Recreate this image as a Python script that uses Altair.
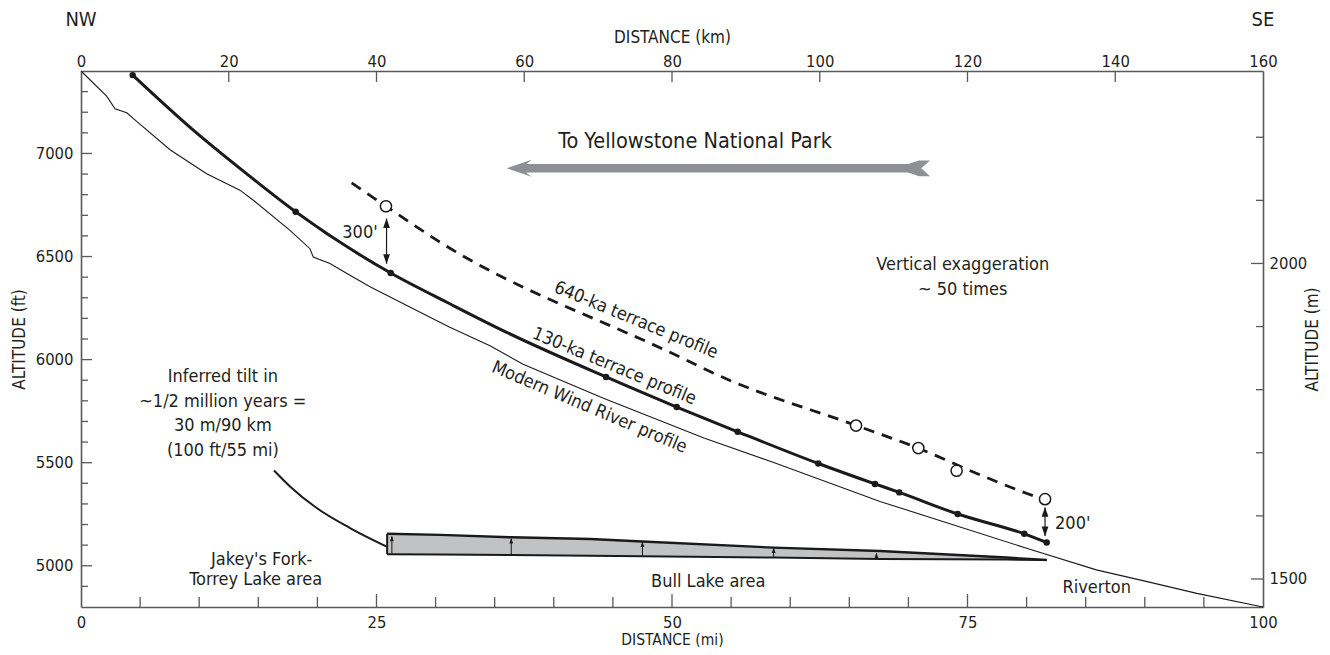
import altair as alt
import pandas as pd

FONT = "DejaVu Sans Condensed, DejaVu Sans, sans-serif"
TXT = "#231f20"
INK = "#1a1a1a"
AXC = "#58595b"
GREY_ARROW = "#8e9094"
W, H = 1182, 536

# ---------------- data ----------------
# Modern Wind River profile
modern_mi = [0, 2.17, 2.88, 3.87, 4.71, 7.53, 10.63, 13.45, 14.58, 17.68, 19.37, 19.65,
             21.06, 22.5, 24.45, 28.4, 31.2, 34.6, 37.4, 44.2, 52.7, 58.6, 67.6, 80.0,
             85.9, 90.2, 94.4, 100]
modern_ft = [7400, 7278, 7217, 7197, 7156, 7018, 6902, 6822, 6773, 6627, 6538, 6498,
             6466, 6418, 6353, 6238, 6157, 6067, 5978, 5813, 5620, 5501, 5312, 5085,
             4980, 4923, 4866, 4800]

# 130-ka terrace profile (line) and its sample points (dots)
t130_mi = [4.37, 9.5, 14.0, 18.16, 26.2, 31.2, 35.7, 44.42, 50.4, 55.56, 62.38, 67.17,
           69.23, 74.17, 79.8, 81.7]
t130_ft = [7380, 7113, 6902, 6717, 6420, 6271, 6141, 5916, 5770, 5650, 5496, 5397,
           5356, 5251, 5155, 5113]
dot130_mi = [4.37, 18.16, 26.2, 44.42, 50.4, 55.56, 62.38, 67.17, 69.23, 74.17, 79.8, 81.7]
dot130_ft = [7380, 6717, 6420, 5916, 5770, 5650, 5496, 5397, 5356, 5251, 5155, 5113]

# 640-ka terrace profile (dashed) and its sample points (open circles)
t640_mi = [22.9, 25.8, 30.37, 50.1, 54.3, 65.6, 70.8, 76.06, 80.15, 81.0]
t640_ft = [6857, 6744, 6570, 6028, 5914, 5680, 5571, 5441, 5348, 5330]
circ640_mi = [25.8, 65.57, 70.84, 74.08, 81.56]
circ640_ft = [6744, 5680, 5571, 5461, 5323]

# Bull Lake area wedge
bull_mi = [25.9, 30.4, 36.4, 43.1, 47.5, 58.6, 67.6, 78.3, 81.7]
bull_top = [5155, 5150, 5138, 5130, 5118, 5088, 5072, 5040, 5028]
bull_bot = [5056, 5055, 5052, 5048, 5046, 5040, 5033, 5030, 5028]
uplift_mi = [26.3, 36.4, 47.5, 58.6, 67.3]
uplift_base = [5056, 5052, 5046, 5040, 5034]
uplift_tip = [5142, 5131, 5114, 5085, 5061]

# leader from the tilt note to the wedge
leader_mi = [16.33, 17.68, 19.94, 22.76, 25.86]
leader_ft = [5462, 5385, 5280, 5183, 5093]

# height-difference arrows (300' and 200')
gap_mi = [25.85, 81.56]
gap_top = [6684, 5283]
gap_bot = [6465, 5145]

# big arrow "To Yellowstone National Park"
ys_ft = 6928
ys_head_mi, ys_shaft_start_mi, ys_shaft_end_mi, ys_tail_mi = 37.07, 37.56, 70.56, 70.9

# annotations
note_text = ["To Yellowstone National Park", "300'", "200'", "Vertical exaggeration",
             "~ 50 times", "Inferred tilt in", "~1/2 million years =", "30 m/90 km",
             "(100 ft/55 mi)", "Jakey's Fork-", "Torrey Lake area", "Bull Lake area",
             "Riverton"]
note_mi = [51.95, 23.6, 83.9, 74.6, 74.6, 12.0, 12.0, 12.0, 12.0, 15.29, 14.78, 53.07, 85.93]
note_ft = [7056, 6613, 5205, 6457, 6336, 5914, 5793, 5676, 5558, 5027, 4930, 4921, 4891]
note_size = [21.5, 18, 18, 18, 18, 18, 18, 18, 18, 18, 18, 18, 18]

prof_text = ["640-ka terrace profile", "130-ka terrace profile", "Modern Wind River profile"]
prof_mi = [46.95, 45.1, 43.0]
prof_ft = [6190, 5966, 5767]
prof_angle = [22.4, 22.5, 22.9]

# axis values
mi_labels = [0, 25, 50, 75, 100]
mi_minor = [5, 10, 15, 20, 30, 35, 40, 45, 55, 60, 65, 70, 80, 85, 90, 95]
mi_major = [25, 50, 75]
ft_labels = [5000, 5500, 6000, 6500, 7000]
ft_minor = [4900, 5100, 5200, 5300, 5400, 5600, 5700, 5800, 5900, 6100, 6200, 6300,
            6400, 6600, 6700, 6800, 6900, 7100, 7200, 7300]
km_labels = [0, 20, 40, 60, 80, 100, 120, 140, 160]
km_ticks = [20, 40, 60, 80, 100, 120, 140]
m_labels = [1500, 2000]
m_minor = [1600, 1700, 1800, 1900, 2100, 2200]
m_major = [1500, 2000]

# ---------------- scales / axes ----------------
axis_common = dict(labelFont=FONT, labelFontSize=16.5, labelColor=TXT, titleFont=FONT,
                   titleFontSize=17, titleColor=TXT, titleFontWeight="normal",
                   domainColor=AXC, domainWidth=1.6, ticks=False, tickSize=0,
                   grid=False, labelFlush=False, labelOverlap=False, format="d",
                   titleAlign="center", titleBaseline="middle")

ax_mi = alt.Axis(orient="bottom", values=mi_labels, title="DISTANCE (mi)",
                 labelBaseline="alphabetic", labelPadding=20,
                 titleX=W / 2, titleY=32, **dict(axis_common, titleFontSize=15.5))
ax_ft = alt.Axis(orient="left", values=ft_labels, title="ALTITUDE (ft)", labelPadding=8,
                 titleX=-62, titleY=H / 2, titleAngle=270, **axis_common)
ax_km = alt.Axis(orient="top", values=km_labels, title="DISTANCE (km)",
                 labelBaseline="alphabetic", labelPadding=5,
                 titleX=W / 2, titleY=-34, **axis_common)
ax_m = alt.Axis(orient="right", values=m_labels, title="ALTITUDE (m)", labelPadding=6,
                titleX=49, titleY=H / 2, titleAngle=270, **axis_common)

sc_mi = alt.Scale(domain=[0, 100], nice=False, zero=False)
sc_ft = alt.Scale(domain=[4800, 7400], nice=False, zero=False)
sc_km = alt.Scale(domain=[0, 160], nice=False, zero=False)
sc_m = alt.Scale(domain=[1455.6, 2305], nice=False, zero=False)

X = alt.X("mi:Q", scale=sc_mi, axis=ax_mi)
Y = alt.Y("ft:Q", scale=sc_ft, axis=ax_ft)
Y2 = alt.Y2("ft2:Q")


def df(**cols):
    return pd.DataFrame(cols)


# ---------------- layer A: miles / feet ----------------
layers = []

# Bull Lake wedge
layers.append(alt.Chart(df(mi=bull_mi, ft=bull_top, ft2=bull_bot)).mark_area(
    color="#c1c2c4", opacity=1).encode(x=X, y=Y, y2=Y2))
layers.append(alt.Chart(df(mi=bull_mi, ft=bull_top)).mark_line(
    color=INK, strokeWidth=2.4).encode(x=X, y=Y))
layers.append(alt.Chart(df(mi=bull_mi, ft=bull_bot)).mark_line(
    color=INK, strokeWidth=2.0).encode(x=X, y=Y))
layers.append(alt.Chart(df(mi=bull_mi[:1], ft=bull_top[:1], ft2=bull_bot[:1])).mark_rule(
    color=INK, strokeWidth=2).encode(x=X, y=Y, y2=Y2))
layers.append(alt.Chart(df(mi=uplift_mi, ft=uplift_tip, ft2=uplift_base)).mark_rule(
    color=INK, strokeWidth=1).encode(x=X, y=Y, y2=Y2))
layers.append(alt.Chart(df(mi=uplift_mi, ft=[t - 12 for t in uplift_tip])).mark_point(
    shape="M0,-1L0.6,0.7L-0.6,0.7Z", size=40, filled=True, color=INK, opacity=1,
    strokeWidth=0).encode(x=X, y=Y))

# Modern river
layers.append(alt.Chart(df(mi=modern_mi, ft=modern_ft)).mark_line(
    color=INK, strokeWidth=1.1).encode(x=X, y=Y))

# 130-ka terrace
layers.append(alt.Chart(df(mi=t130_mi, ft=t130_ft)).mark_line(
    color=INK, strokeWidth=3, interpolate="monotone").encode(x=X, y=Y))
layers.append(alt.Chart(df(mi=dot130_mi, ft=dot130_ft)).mark_point(
    shape="circle", size=42, filled=True, color=INK, opacity=1).encode(x=X, y=Y))

# 640-ka terrace
layers.append(alt.Chart(df(mi=t640_mi, ft=t640_ft)).mark_line(
    color=INK, strokeWidth=2.8, strokeDash=[11, 8], interpolate="monotone").encode(x=X, y=Y))
layers.append(alt.Chart(df(mi=circ640_mi, ft=circ640_ft)).mark_point(
    shape="circle", size=125, filled=False, fill="white", stroke=INK, strokeWidth=1.5,
    opacity=1).encode(x=X, y=Y))

# leader curve
layers.append(alt.Chart(df(mi=leader_mi, ft=leader_ft)).mark_line(
    color=INK, strokeWidth=2, interpolate="monotone").encode(x=X, y=Y))

# 300' / 200' double arrows
layers.append(alt.Chart(df(mi=gap_mi, ft=gap_top, ft2=gap_bot)).mark_rule(
    color=INK, strokeWidth=1.2).encode(x=X, y=Y, y2=Y2))
layers.append(alt.Chart(df(mi=gap_mi, ft=[t - 28 for t in gap_top])).mark_point(
    shape="M0,-1L0.55,0.6L-0.55,0.6Z", size=150, filled=True, color=INK, opacity=1,
    strokeWidth=0).encode(x=X, y=Y))
layers.append(alt.Chart(df(mi=gap_mi, ft=[b + 28 for b in gap_bot])).mark_point(
    shape="M0,1L0.55,-0.6L-0.55,-0.6Z", size=150, filled=True, color=INK, opacity=1,
    strokeWidth=0).encode(x=X, y=Y))

# big grey arrow
layers.append(alt.Chart(df(mi=[ys_shaft_start_mi], mi2=[ys_shaft_end_mi], ft=[ys_ft])).mark_rule(
    color=GREY_ARROW, strokeWidth=8.4).encode(x=X, x2=alt.X2("mi2:Q"), y=Y))
layers.append(alt.Chart(df(mi=[ys_head_mi], ft=[ys_ft])).mark_point(
    shape="M-1,0L1,-0.68L0.55,-0.33L0.55,0.33L1,0.68Z", size=625, filled=True,
    color=GREY_ARROW, opacity=1, strokeWidth=0).encode(x=X, y=Y))
layers.append(alt.Chart(df(mi=[ys_tail_mi], ft=[ys_ft])).mark_point(
    shape="M-1,-0.38L0,-0.72L1,-0.72L0.2,0L1,0.72L0,0.72L-1,0.38Z", size=484, filled=True,
    color=GREY_ARROW, opacity=1, strokeWidth=0).encode(x=X, y=Y))

# annotations
for t, m, f, s in zip(note_text, note_mi, note_ft, note_size):
    layers.append(alt.Chart(df(mi=[m], ft=[f], t=[t])).mark_text(
        font=FONT, fontSize=s, color=TXT, align="center", baseline="middle").encode(
        x=X, y=Y, text="t:N"))
for t, m, f, a in zip(prof_text, prof_mi, prof_ft, prof_angle):
    layers.append(alt.Chart(df(mi=[m], ft=[f], t=[t])).mark_text(
        font=FONT, fontSize=18, color=TXT, align="center", baseline="middle", angle=a).encode(
        x=X, y=Y, text="t:N"))

# NW / SE
layers.append(alt.Chart(df(mi=[0, 100], t=["NW", "SE"])).mark_text(
    font=FONT, fontSize=20, color=TXT, align="center", baseline="middle").encode(
    x=X, y=alt.value(-51), text="t:N"))

# inward ticks on left and bottom axes
layers.append(alt.Chart(df(ft=ft_minor)).mark_rule(color=AXC, strokeWidth=1.3).encode(
    y=Y, x=alt.value(0), x2=alt.value(7)))
layers.append(alt.Chart(df(ft=ft_labels)).mark_rule(color=AXC, strokeWidth=1.3).encode(
    y=Y, x=alt.value(0), x2=alt.value(11)))
layers.append(alt.Chart(df(mi=mi_minor)).mark_rule(color=AXC, strokeWidth=1.3).encode(
    x=X, y=alt.value(H), y2=alt.value(H - 10)))
layers.append(alt.Chart(df(mi=mi_major)).mark_rule(color=AXC, strokeWidth=1.3).encode(
    x=X, y=alt.value(H), y2=alt.value(H - 13)))

layer_a = alt.layer(*layers)

# ---------------- layer B: km / m ----------------
XB = alt.X("km:Q", scale=sc_km, axis=ax_km)
YB = alt.Y("m:Q", scale=sc_m, axis=ax_m)
top_ticks = alt.Chart(df(km=km_ticks)).mark_rule(color=AXC, strokeWidth=1.3).encode(
    x=XB, y=alt.value(0), y2=alt.value(11))
right_minor = alt.Chart(df(m=m_minor)).mark_rule(color=AXC, strokeWidth=1.3).encode(
    y=YB, x=alt.value(W - 7), x2=alt.value(W))
right_major = alt.Chart(df(m=m_major)).mark_rule(color=AXC, strokeWidth=1.3).encode(
    y=YB, x=alt.value(W - 12), x2=alt.value(W))
layer_b = alt.layer(top_ticks, right_minor, right_major)

chart = alt.layer(layer_a, layer_b).resolve_scale(x="independent", y="independent").properties(
    width=W, height=H,
    padding={"left": 73, "top": 63, "right": 59, "bottom": 40},
    autosize=alt.AutoSizeParams(type="none"),
    background="white",
).configure_view(stroke=None)

chart.save("out.html", embed_options={"renderer": "svg", "actions": False})
